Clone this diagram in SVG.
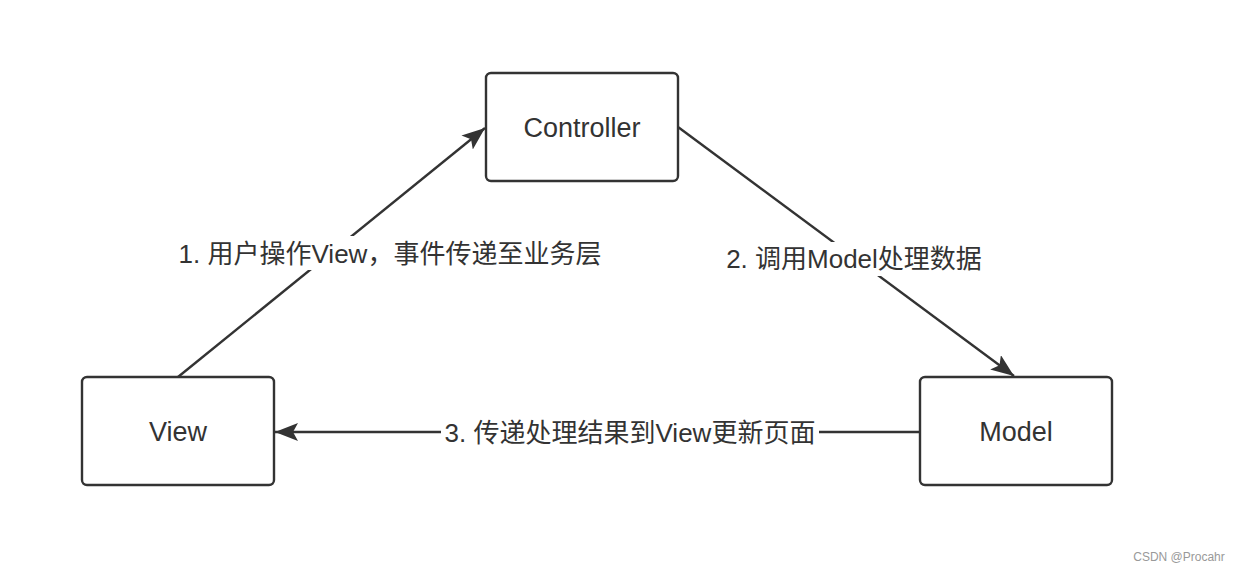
<svg xmlns="http://www.w3.org/2000/svg" width="1238" height="572" viewBox="0 0 1238 572">
<style>
.node{fill:#fff;stroke:#333;stroke-width:2.4}
.nt{font-family:"Liberation Sans","Noto Sans CJK SC",sans-serif;font-size:27px;fill:#333;text-anchor:middle;dominant-baseline:central}
.edge{stroke:#333;stroke-width:2.4;fill:none}
.lb{font-family:"Liberation Sans","Noto Sans CJK SC",sans-serif;font-size:26px;fill:#333;text-anchor:middle;dominant-baseline:central}
.bg{fill:#fff}
</style>
<defs>
<marker id="arr" markerUnits="userSpaceOnUse" markerWidth="26" markerHeight="20" refX="23" refY="9" orient="auto">
<path d="M0,0 L23,9 L0,18 L5,9 Z" fill="#333"/>
</marker>
</defs>
<rect width="1238" height="572" fill="#fff"/>
<g id="connectors">
<g id="e1">
<line class="edge" x1="178" y1="377" x2="485" y2="128" marker-end="url(#arr)"/>
<rect class="bg" x="178" y="236" width="424" height="34"/>
<text class="lb" x="390" y="254">1. 用户操作View，事件传递至业务层</text>
</g>
<g id="e2">
<line class="edge" x1="678" y1="127" x2="1014" y2="376" marker-end="url(#arr)"/>
<rect class="bg" x="722" y="242" width="264" height="34"/>
<text class="lb" x="854" y="259">2. 调用Model处理数据</text>
</g>
<g id="e3">
<line class="edge" x1="920" y1="432" x2="275" y2="432" marker-end="url(#arr)"/>
<rect class="bg" x="441" y="416" width="378" height="34"/>
<text class="lb" x="630" y="433">3. 传递处理结果到View更新页面</text>
</g>
</g>
<g id="controller">
<rect class="node" x="486" y="73" width="192" height="108" rx="5"/>
<text class="nt" x="582" y="128">Controller</text>
</g>
<g id="view">
<rect class="node" x="82" y="377" width="192" height="108" rx="5"/>
<text class="nt" x="178" y="432">View</text>
</g>
<g id="model">
<rect class="node" x="920" y="377" width="192" height="108" rx="5"/>
<text class="nt" x="1016" y="432">Model</text>
</g>
<text x="1179" y="557" font-family="Liberation Sans, sans-serif" font-size="12" fill="#999" text-anchor="middle" dominant-baseline="central">CSDN @Procahr</text>
</svg>
